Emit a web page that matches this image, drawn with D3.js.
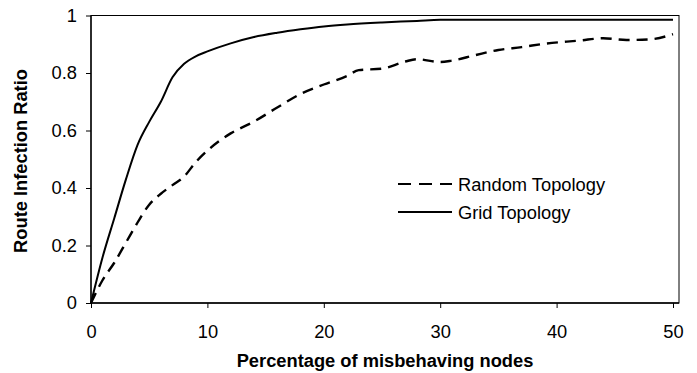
<!DOCTYPE html>
<html>
<head>
<meta charset="utf-8">
<script src="https://cdn.jsdelivr.net/npm/d3@7/dist/d3.min.js"></script>
<style>
  html, body { margin: 0; padding: 0; background: #fff; }
  svg text { font-family: "Liberation Sans", Arial, sans-serif; fill: #000; }
</style>
</head>
<body>
<svg id="chart" width="697" height="373"></svg>
<script>
// ---- data ----
const gridX = [0, 1, 2, 3, 4, 5, 6, 7, 8, 9, 10, 12, 14, 16, 18, 20, 22, 25, 28, 30, 35, 40, 45, 50];
const gridY = [0, 0.16, 0.295, 0.43, 0.55, 0.63, 0.70, 0.785, 0.832, 0.858, 0.875, 0.903, 0.925, 0.94, 0.952, 0.962, 0.969, 0.976, 0.981, 0.985, 0.985, 0.985, 0.985, 0.985];

const randomX = [0, 1, 2, 3, 4, 5, 6, 7, 8, 9, 10, 11, 12, 14, 16, 18, 20, 22, 23, 25, 27, 28, 30, 31, 33, 35, 37, 39, 42, 44, 46, 48, 50];
const randomY = [0, 0.08, 0.14, 0.21, 0.28, 0.342, 0.38, 0.41, 0.44, 0.49, 0.53, 0.563, 0.59, 0.631, 0.68, 0.727, 0.76, 0.79, 0.81, 0.815, 0.84, 0.848, 0.838, 0.843, 0.862, 0.88, 0.89, 0.902, 0.913, 0.921, 0.915, 0.917, 0.935];

const xTicks = [0, 10, 20, 30, 40, 50];
const yTicks = [0, 0.2, 0.4, 0.6, 0.8, 1];
const seriesNames = ["Random Topology", "Grid Topology"];
const xTitle = "Percentage of misbehaving nodes";
const yTitle = "Route Infection Ratio";

(function () {
// ---- layout ----
const svg = d3.select("#chart");
const pl = 91, pr = 679, pt = 15.5, pb = 303;
const x = d3.scaleLinear().domain([0, 50]).range([pl, 673]);
const y = d3.scaleLinear().domain([0, 1]).range([pb, pt]);
const fs = "18.3px";

// plot border
svg.append("rect")
  .attr("x", pl).attr("y", pt)
  .attr("width", pr - pl).attr("height", pb - pt)
  .attr("fill", "none").attr("stroke", "#000").attr("stroke-width", 1);

// x axis
const xAxis = svg.append("g").attr("transform", `translate(0,${pb})`)
  .call(d3.axisBottom(x).tickValues(xTicks).tickFormat(d3.format("d")).tickSize(5).tickPadding(17));
xAxis.select(".domain").attr("d", `M${pl},0H${pr}`).attr("stroke-width", 1.3);
xAxis.selectAll("text").style("font-size", fs);

// y axis
const yAxis = svg.append("g").attr("transform", `translate(${pl},0)`)
  .call(d3.axisLeft(y).tickValues(yTicks).tickFormat(d => d === 0 || d === 1 ? String(d) : d3.format(".1f")(d)).tickSize(5).tickPadding(9));
yAxis.select(".domain").attr("d", `M0,${pt}V${pb}`).attr("stroke-width", 1.3);
yAxis.selectAll("text").style("font-size", fs);

// titles
svg.append("text").attr("x", (pl + pr) / 2).attr("y", 367)
  .attr("text-anchor", "middle").style("font-size", fs).style("font-weight", "bold").text(xTitle);
svg.append("text").attr("transform", `translate(27,161) rotate(-90)`)
  .attr("text-anchor", "middle").style("font-size", fs).style("font-weight", "bold").text(yTitle);

// lines
const line = d3.line().x(d => x(d[0])).y(d => y(d[1])).curve(d3.curveMonotoneX);
const gridData = gridX.map((v, i) => [v, gridY[i]]);
const randomData = randomX.map((v, i) => [v, randomY[i]]);

svg.append("path").datum(randomData).attr("d", line)
  .attr("fill", "none").attr("stroke", "#000").attr("stroke-width", 2.4)
  .attr("stroke-dasharray", "11,7");
svg.append("path").datum(gridData).attr("d", line)
  .attr("fill", "none").attr("stroke", "#000").attr("stroke-width", 2);

// legend
const legend = svg.append("g");
const legY = [184, 212];
const dashes = ["13,8", null];
seriesNames.forEach((name, i) => {
  legend.append("line").attr("x1", 398).attr("x2", 452).attr("y1", legY[i]).attr("y2", legY[i])
    .attr("stroke", "#000").attr("stroke-width", 2.2).attr("stroke-dasharray", dashes[i]);
  legend.append("text").attr("x", 458).attr("y", legY[i]).attr("dy", "0.36em")
    .style("font-size", fs).text(name);
});
})();
</script>
</body>
</html>
